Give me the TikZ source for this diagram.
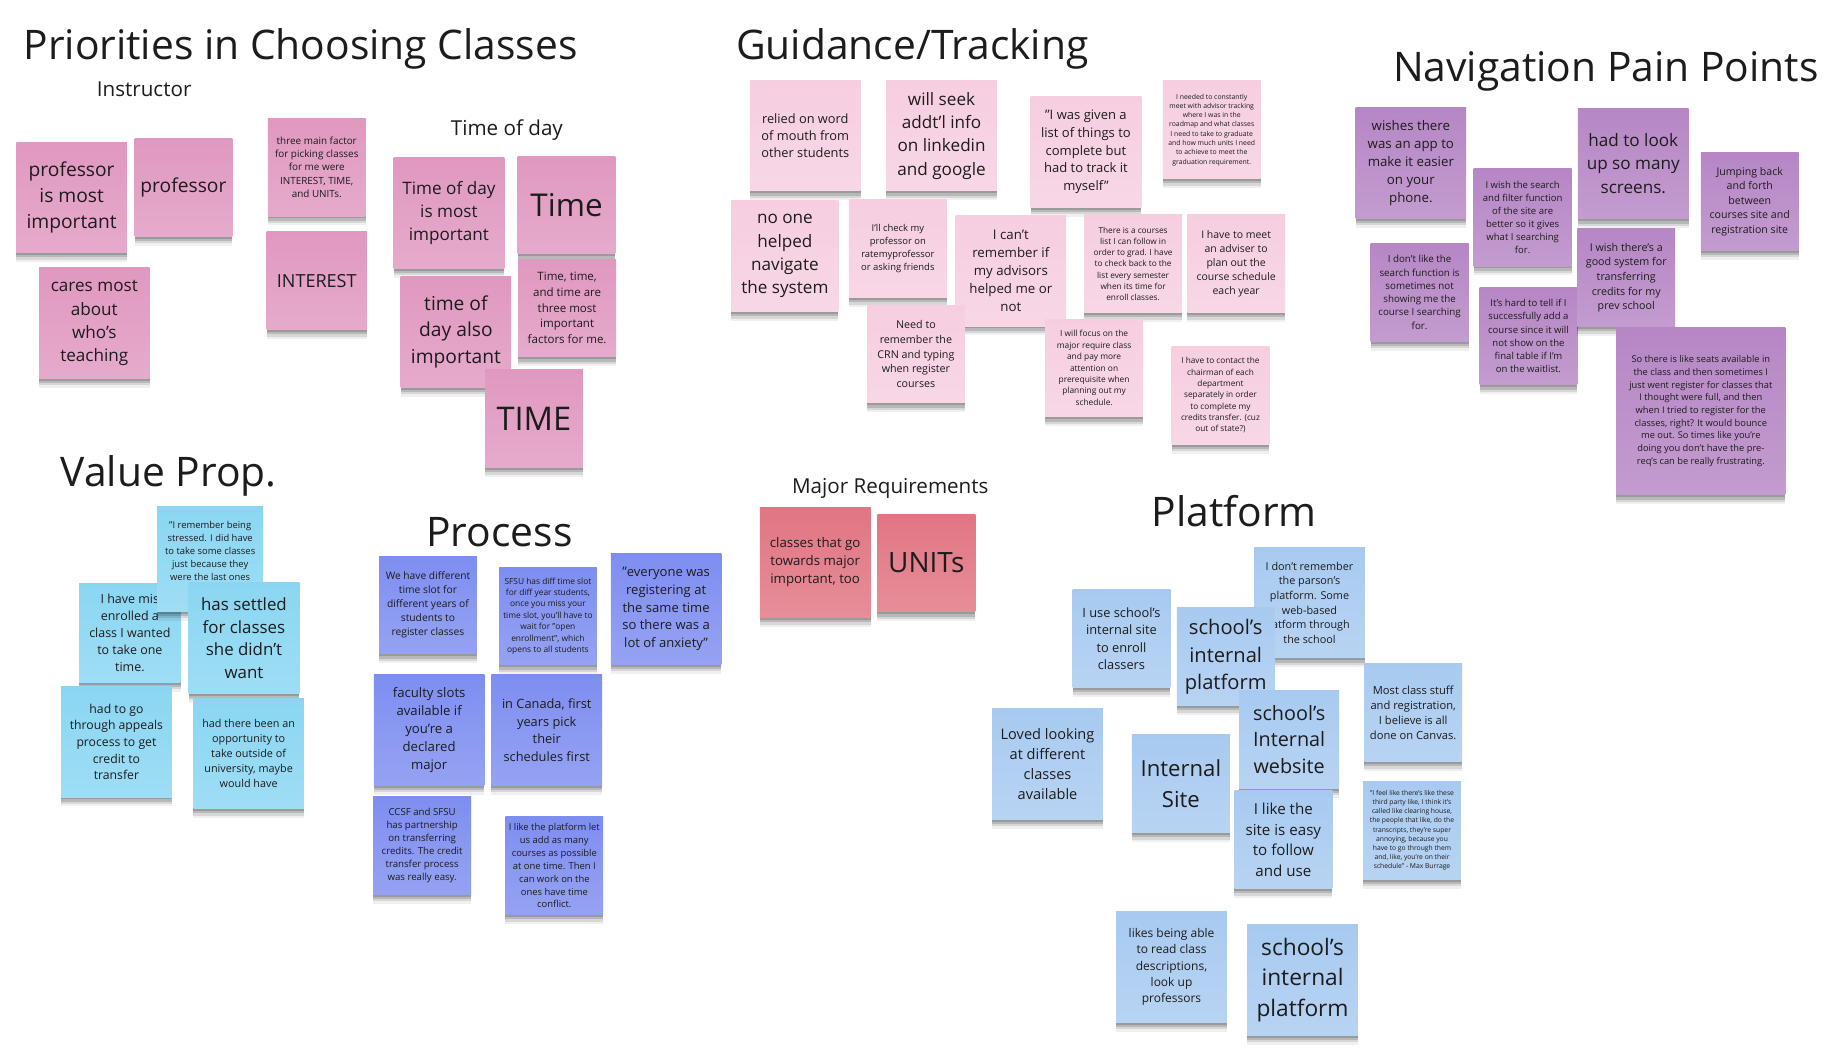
\documentclass[tikz,border=0pt]{standalone}
\usepackage{fontspec}
\setmainfont{Open Sans}
\usetikzlibrary{positioning}

\definecolor{ink}{RGB}{28,28,28}
\definecolor{priopink}{RGB}{224,152,192}
\definecolor{guidepink}{RGB}{246,206,224}
\definecolor{navpurple}{RGB}{182,134,197}
\definecolor{valuecyan}{RGB}{138,214,242}
\definecolor{procblue}{RGB}{126,142,240}
\definecolor{majorred}{RGB}{225,117,131}
\definecolor{platblue}{RGB}{168,202,240}

\begin{document}
\begin{tikzpicture}[x=1pt, y=-1pt,
    sticky/.style={rectangle, inner sep=0pt, align=center, text=ink,
                   top color=#1, bottom color=#1!82!white,
                   preaction={fill=black, opacity=.16, transform canvas={yshift=-2pt}},
                   preaction={fill=black, opacity=.14, transform canvas={yshift=-4pt}},
                   preaction={fill=black, opacity=.10, transform canvas={yshift=-6pt}},
                   preaction={fill=black, opacity=.06, transform canvas={yshift=-8pt}}},
    bignote/.style={minimum width=95pt, minimum height=95pt},
    smallnote/.style={minimum width=84pt, minimum height=84pt},
    txt/.style 2 args={font=\fontsize{#1}{#2}\selectfont},
    heading/.style={anchor=base west, inner sep=0pt, text=ink,
                    font=\fontsize{35}{42}\selectfont},
    subheading/.style={anchor=base west, inner sep=0pt, text=ink,
                       font=\fontsize{17.7}{22}\selectfont}
]
\useasboundingbox[fill=white] (0,0) rectangle (1568,909);

% group titles
\node[heading] (prioT) at (20,51) {Priorities in Choosing Classes};
\node[subheading] (instrT) at (83,83) {Instructor};
\node[subheading] (todT) at (387,116) {Time of day};
\node[heading] (guideT) at (632,51) {Guidance/Tracking};
\node[heading] (navT) at (1196,70) {Navigation Pain Points};
\node[heading] (valueT) at (52,418) {Value Prop.};
\node[heading] (procT) at (366,469) {Process};
\node[subheading] (majorT) at (680,424) {Major Requirements};
\node[heading] (platT) at (989,452) {Platform};

% priorities
\node[sticky=priopink, bignote, txt={16.5}{22.5}] (prof) at (61.5,169.5) {professor\\is most\\important};
\node[sticky=priopink, smallnote, txt={16.5}{22.5}] (profb) at (157.5,161) {professor};
\node[sticky=priopink, bignote, txt={14.7}{20}] (cares) at (81,277.5) {cares most\\about\\who's\\teaching};
\node[sticky=priopink, smallnote, txt={8.5}{11.5}] (threefac) at (272,143.5) {three main factor\\for picking classes\\for me were\\INTEREST, TIME,\\and UNITs.};
\node[sticky=priopink, smallnote, minimum width=86pt, txt={15.5}{20}] (interest) at (272,241) {INTEREST};
\node[sticky=priopink, bignote, txt={14.7}{20}] (todmost) at (385.5,183) {Time of day\\is most\\important};
\node[sticky=priopink, smallnote, txt={27}{34}] (timea) at (486.5,176) {Time};
\node[sticky=priopink, bignote, txt={16.5}{22.5}] (todalso) at (391.5,285) {time of\\day also\\important};
\node[sticky=priopink, smallnote, txt={9.9}{13.5}] (timethree) at (487,264.5) {Time, time,\\and time are\\three most\\important\\factors for me.};
\node[sticky=priopink, smallnote, txt={28}{34}] (timeb) at (458.5,359.5) {TIME};

% guidance / tracking
\node[sticky=guidepink, bignote, txt={11}{15}] (wordmouth) at (691.5,116.5) {relied on word\\of mouth from\\other students};
\node[sticky=guidepink, bignote, txt={14.7}{20}] (linkedin) at (808.5,116.5) {will seek\\addt'l info\\on linkedin\\and google};
\node[sticky=guidepink, bignote, txt={11.2}{15.2}] (givenlist) at (932.5,130.5) {"I was given a\\list of things to\\complete but\\had to track it\\myself"};
\node[sticky=guidepink, smallnote, txt={5.9}{8}] (advisortrack) at (1040.5,111.5) {I needed to constantly\\meet with advisor tracking\\where I was in the\\roadmap and what classes\\I need to take to graduate\\and how much units I need\\to achieve to meet the\\graduation requirement.};
\node[sticky=guidepink, bignote, minimum width=92pt, txt={14.7}{20}] (noone) at (674,220) {no one\\helped\\navigate\\the system};
\node[sticky=guidepink, smallnote, txt={8.1}{11}] (ratemy) at (771,213.5) {I'll check my\\professor on\\ratemyprofessor\\or asking friends};
\node[sticky=guidepink, bignote, txt={11.4}{15.5}] (cantrem) at (868,232.5) {I can't\\remember if\\my advisors\\helped me or\\not};
\node[sticky=guidepink, smallnote, txt={7.1}{9.6}] (courselist) at (973,226.5) {There is a courses\\list I can follow in\\order to grad. I have\\to check back to the\\list every semester\\when its time for\\enroll classes.};
\node[sticky=guidepink, smallnote, txt={9}{12.2}] (meetadv) at (1061.5,226.5) {I have to meet\\an adviser to\\plan out the\\course schedule\\each year};
\node[sticky=guidepink, smallnote, txt={9.2}{12.5}] (crn) at (786.5,304) {Need to\\remember the\\CRN and typing\\when register\\courses};
\node[sticky=guidepink, smallnote, txt={7.2}{9.8}] (focusmajor) at (939.5,316) {I will focus on the\\major require class\\and pay more\\attention on\\prerequisite when\\planning out my\\schedule.};
\node[sticky=guidepink, smallnote, txt={7.1}{9.7}] (chairman) at (1048,339.5) {I have to contact the\\chairman of each\\department\\separately in order\\to complete my\\credits transfer. (cuz\\out of state?)};

% navigation pain points
\node[sticky=navpurple, bignote, txt={11.4}{15.5}] (wishapp) at (1211.5,140) {wishes there\\was an app to\\make it easier\\on your\\phone.};
\node[sticky=navpurple, smallnote, txt={8.2}{11.2}] (searchfilter) at (1307.5,186.5) {I wish the search\\and filter function\\of the site are\\better so it gives\\what I searching\\for.};
\node[sticky=navpurple, bignote, txt={14.7}{20}] (lookup) at (1402.5,140.5) {had to look\\up so many\\screens.};
\node[sticky=navpurple, smallnote, txt={9.1}{12.4}] (jumping) at (1502.5,173) {Jumping back\\and forth\\between\\courses site and\\registration site};
\node[sticky=navpurple, smallnote, txt={8.4}{11.4}] (dislikesearch) at (1219,251) {I don't like the\\search function is\\sometimes not\\showing me the\\course I searching\\for.};
\node[sticky=navpurple, smallnote, txt={8.2}{11.2}] (waitlist) at (1312.5,288.5) {It's hard to tell if I\\successfully add a\\course since it will\\not show on the\\final table if I'm\\on the waitlist.};
\node[sticky=navpurple, smallnote, txt={9.2}{12.5}] (transfer) at (1396.5,238.5) {I wish there's a\\good system for\\transferring\\credits for my\\prev school};
\node[sticky=navpurple, minimum width=145pt, minimum height=144pt, txt={8}{10.9}] (seats) at (1460.5,353) {So there is like seats available in\\the class and then sometimes I\\just went register for classes that\\I thought were full, and then\\when I tried to register for the\\classes, right? It would bounce\\me out. So times like you're\\doing you don't have the pre-\\req's can be really frustrating.};

% value prop.
\node[sticky=valuecyan, minimum width=87pt, minimum height=85pt, txt={10.7}{14.5}] (misenrolled) at (111.5,543.5) {I have mis\\enrolled a\\class I wanted\\to take one\\time.};
\node[sticky=valuecyan, minimum width=91pt, minimum height=90pt, txt={8.1}{11}] (stressed) at (180.5,480) {"I remember being\\stressed. I did have\\to take some classes\\just because they\\were the last ones\\[3pt]};
\node[sticky=valuecyan, bignote, txt={14.5}{19.7}] (settled) at (209.5,548) {has settled\\for classes\\she didn't\\want};
\node[sticky=valuecyan, bignote, txt={10.5}{14.3}] (appeals) at (100,637) {had to go\\through appeals\\process to get\\credit to\\transfer};
\node[sticky=valuecyan, bignote, txt={9.3}{12.7}] (outside) at (213.5,647) {had there been an\\opportunity to\\take outside of\\university, maybe\\would have};

% process
\node[sticky=procblue, smallnote, txt={8.8}{12}] (timeslot) at (367.5,519.5) {We have different\\time slot for\\different years of\\students to\\register classes};
\node[sticky=procblue, smallnote, txt={7.2}{9.8}] (sfsu) at (470.5,529) {SFSU has diff time slot\\for diff year students,\\once you miss your\\time slot, you'll have to\\wait for "open\\enrollment", which\\opens to all students};
\node[sticky=procblue, bignote, txt={11.2}{15.2}] (anxiety) at (572,523) {"everyone was\\registering at\\the same time\\so there was a\\lot of anxiety"};
\node[sticky=procblue, bignote, txt={11.3}{15.4}] (faculty) at (368.5,627) {faculty slots\\available if\\you're a\\declared\\major};
\node[sticky=procblue, bignote, txt={11}{15}] (canada) at (469.5,627) {in Canada, first\\years pick\\their\\schedules first};
\node[sticky=procblue, smallnote, txt={8.3}{11.3}] (ccsf) at (362.5,726) {CCSF and SFSU\\has partnership\\on transferring\\credits. The credit\\transfer process\\was really easy.};
\node[sticky=procblue, smallnote, txt={8.1}{11}] (addmany) at (476,743.5) {I like the platform let\\us add as many\\courses as possible\\at one time. Then I\\can work on the\\ones have time\\conflict.};

% major requirements
\node[sticky=majorred, bignote, txt={11.4}{15.5}] (towardsmajor) at (700,483) {classes that go\\towards major\\important, too};
\node[sticky=majorred, smallnote, txt={24}{30}] (units) at (795.5,483.5) {UNITs};

% platform
\node[sticky=platblue, smallnote, txt={11}{15}] (useschool) at (963,548.5) {I use school's\\internal site\\to enroll\\classers};
\node[sticky=platblue, bignote, txt={9.3}{12.6}] (parson) at (1124.5,517.5) {I don't remember\\the parson's\\platform. Some\\web-based\\latform through\\the school};
\node[sticky=platblue, smallnote, txt={17.3}{23.5}] (intplat) at (1052.5,564) {school's\\internal\\platform};
\node[sticky=platblue, smallnote, minimum width=86pt, txt={17}{23}] (intweb) at (1107,635) {school's\\Internal\\website};
\node[sticky=platblue, smallnote, txt={9.6}{13}] (canvas) at (1213.5,612) {Most class stuff\\and registration,\\I believe is all\\done on Canvas.};
\node[sticky=platblue, bignote, txt={12.5}{17}] (loved) at (899.5,656) {Loved looking\\at different\\classes\\available};
\node[sticky=platblue, smallnote, txt={19}{26}] (intsite) at (1014,673) {Internal\\Site};
\node[sticky=platblue, smallnote, txt={13}{17.7}] (easy) at (1102,721) {I like the\\site is easy\\to follow\\and use};
\node[sticky=platblue, smallnote, txt={5.8}{7.9}] (clearing) at (1212.5,713) {"I feel like there's like these\\third party like, I think it's\\called like clearing house,\\the people that like, do the\\transcripts, they're super\\annoying, because you\\have to go through them\\and, like, you're on their\\schedule" - Max Burrage};
\node[sticky=platblue, bignote, txt={10.3}{14}] (descriptions) at (1006,830.5) {likes being able\\to read class\\descriptions,\\look up\\professors};
\node[sticky=platblue, bignote, txt={19.5}{26.5}] (intplatb) at (1118.5,841.5) {school's\\internal\\platform};
\end{tikzpicture}
\end{document}
